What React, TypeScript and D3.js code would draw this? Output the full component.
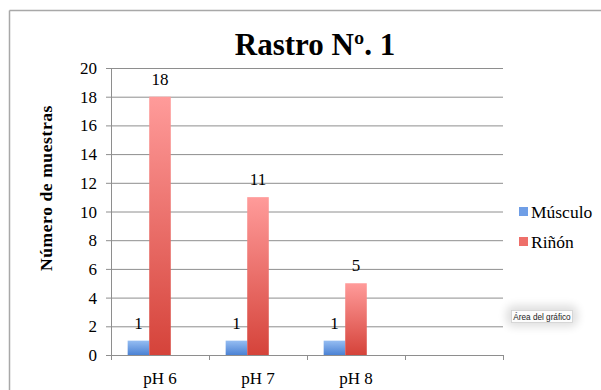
import React from "react";
import * as d3 from "d3";

// Chart data
const categories = ["pH 6", "pH 7", "pH 8", ""];
const seriesNames = ["Músculo", "Riñón"];
const musculo = [1, 1, 1, null];
const rinon = [18, 11, 5, null];
const yTicks = [0, 2, 4, 6, 8, 10, 12, 14, 16, 18, 20];
const title = "Rastro Nº. 1";
const yTitle = "Número de muestras";
const tooltipText = "Área del gráfico";

const W = 601;
const H = 390;
const plot = { left: 111, right: 503, top: 68, bottom: 355 };
const serif = "'Liberation Serif', 'DejaVu Serif', serif";

export default function App() {
  const x = d3
    .scaleBand<string>()
    .domain(categories.map((c, i) => String(i)))
    .range([plot.left, plot.right])
    .paddingInner(0)
    .paddingOuter(0);
  const y = d3.scaleLinear().domain([0, 20]).range([plot.bottom, plot.top]);

  // three slots per group (last one empty), grouped bars in the middle of each band
  const groupW = x.bandwidth() * 0.66;
  const slot = d3
    .scaleBand<number>()
    .domain([0, 1, 2])
    .range([0, groupW]);

  const series = [
    { name: seriesNames[0], values: musculo, grad: "gBlue", swatch: "#6f9ee6" },
    { name: seriesNames[1], values: rinon, grad: "gRed", swatch: "#ee6f6a" },
  ];

  return (
    <svg
      width={W}
      height={H}
      style={{ position: "absolute", left: 0, top: 0, background: "#fff" }}
    >
      <defs>
        <linearGradient id="gRed" x1="0" y1="0" x2="0" y2="1">
          <stop offset="0" stopColor="#ff9b9a" />
          <stop offset="1" stopColor="#d5433a" />
        </linearGradient>
        <linearGradient id="gBlue" x1="0" y1="0" x2="0" y2="1">
          <stop offset="0" stopColor="#95bdf2" />
          <stop offset="1" stopColor="#4b82d4" />
        </linearGradient>
        <filter id="soft" x="-30%" y="-80%" width="160%" height="260%">
          <feGaussianBlur stdDeviation="4" />
        </filter>
      </defs>

      {/* chart frame */}
      <line x1={9.5} y1={10.5} x2={W} y2={10.5} stroke="#a8a8a8" strokeWidth={1.5} />
      <line x1={9.5} y1={10.5} x2={9.5} y2={H} stroke="#a8a8a8" strokeWidth={1.5} />

      {/* title */}
      <text
        x={315}
        y={55}
        textAnchor="middle"
        fontFamily={serif}
        fontWeight="bold"
        fontSize={31}
        fill="#000"
      >
        {title}
      </text>

      {/* gridlines + y ticks */}
      {yTicks.map((t) => (
        <g key={t}>
          {t > 0 && (
            <line
              x1={plot.left}
              x2={plot.right}
              y1={y(t) + 0.5}
              y2={y(t) + 0.5}
              stroke="#8e8e8e"
              strokeWidth={1}
            />
          )}
          <line
            x1={plot.left - 5}
            x2={plot.left}
            y1={y(t) + 0.5}
            y2={y(t) + 0.5}
            stroke="#8e8e8e"
          />
          <text
            x={plot.left - 14}
            y={y(t) + 6}
            textAnchor="end"
            fontFamily={serif}
            fontSize={17}
            fill="#000"
          >
            {t}
          </text>
        </g>
      ))}

      {/* axes */}
      <line
        x1={plot.left + 0.5}
        x2={plot.left + 0.5}
        y1={plot.top}
        y2={plot.bottom + 5}
        stroke="#8e8e8e"
      />
      <line
        x1={plot.left}
        x2={plot.right}
        y1={plot.bottom + 0.5}
        y2={plot.bottom + 0.5}
        stroke="#8e8e8e"
      />
      {categories.map((c, i) => (
        <line
          key={"t" + i}
          x1={(x(String(i)) as number) + x.bandwidth() + 0.5}
          x2={(x(String(i)) as number) + x.bandwidth() + 0.5}
          y1={plot.bottom}
          y2={plot.bottom + 5}
          stroke="#8e8e8e"
        />
      ))}

      {/* bars */}
      {series.map((s, si) =>
        s.values.map((v, i) => {
          if (v == null) return null;
          const x0 =
            (x(String(i)) as number) + (x.bandwidth() - groupW) / 2 + (slot(si) as number);
          const bw = slot.bandwidth();
          return (
            <g key={s.name + i}>
              <rect
                x={x0}
                y={y(v)}
                width={bw}
                height={y(0) - y(v)}
                fill={`url(#${s.grad})`}
              />
              <text
                x={x0 + bw / 2}
                y={y(v) - 12}
                textAnchor="middle"
                fontFamily={serif}
                fontSize={17}
                fill="#000"
              >
                {v}
              </text>
            </g>
          );
        })
      )}

      {/* category labels */}
      {categories.map((c, i) => (
        <text
          key={"c" + i}
          x={(x(String(i)) as number) + x.bandwidth() / 2}
          y={384}
          textAnchor="middle"
          fontFamily={serif}
          fontSize={17}
          fill="#000"
        >
          {c}
        </text>
      ))}

      {/* y-axis title */}
      <text
        transform={`translate(52,188) rotate(-90)`}
        textAnchor="middle"
        fontFamily={serif}
        fontWeight="bold"
        fontSize={17.5}
        letterSpacing={0.6}
        fill="#000"
      >
        {yTitle}
      </text>

      {/* legend */}
      {series.map((s, i) => (
        <g key={"l" + s.name} transform={`translate(519,${212 + i * 30})`}>
          <rect x={0} y={-5} width={9} height={9} fill={s.swatch} />
          <text x={12} y={5.5} fontFamily={serif} fontSize={17.5} fill="#000">
            {s.name}
          </text>
        </g>
      ))}

      {/* hover tag */}
      <rect x={506} y={305} width={72} height={22} rx={8} fill="#000" opacity={0.12} filter="url(#soft)" />
      <rect x={511.5} y={310.5} width={61} height={12} fill="#fcfcfc" stroke="#d0d0d0" strokeWidth={0.8} />
      <text
        x={542}
        y={319.5}
        textAnchor="middle"
        fontFamily="'Liberation Sans', Arial, sans-serif"
        fontSize={8.2}
        fill="#222"
      >
        {tooltipText}
      </text>
    </svg>
  );
}
